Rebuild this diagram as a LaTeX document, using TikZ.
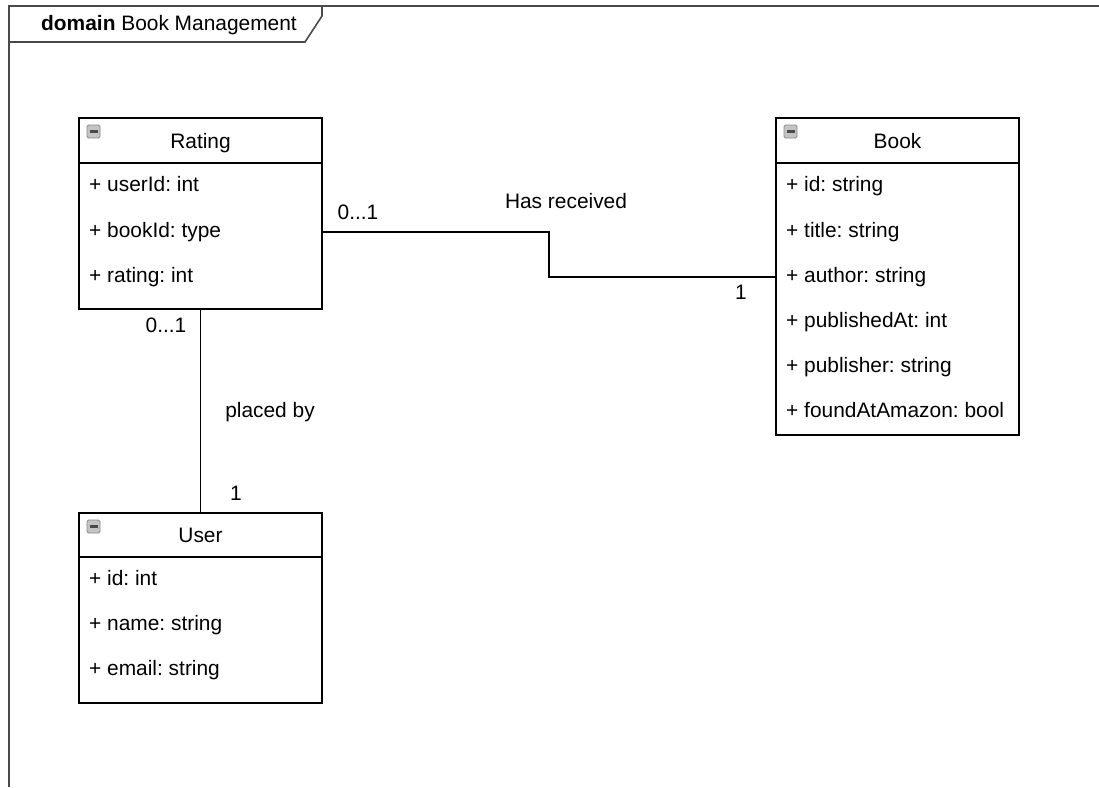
\documentclass[tikz,border=0pt]{standalone}
\usepackage{fontspec}
\setmainfont{Liberation Sans}
\usetikzlibrary{calc}
\frenchspacing

\definecolor{framegray}{HTML}{4A4A4A}
\definecolor{iconfill}{HTML}{C4C4C4}
\definecolor{iconedge}{HTML}{8A8A8A}
\definecolor{iconbar}{HTML}{4A4A4A}

\tikzset{
  uml/.style={font=\fontsize{20.9}{24}\selectfont, inner sep=0pt},
  classbox/.style={draw=black, line width=1.5pt, fill=white, outer sep=0pt,
    anchor=north west, minimum width=243pt},
  attr/.style={uml, anchor=base west},
  title/.style={uml, anchor=base},
  mult/.style={uml, anchor=base},
  assoc/.style={draw=black, line width=1.3pt},
  frameline/.style={draw=framegray, line width=2.2pt},
  tabline/.style={draw=framegray, line width=1.6pt},
}

% collapse toggle in a class header
\newcommand{\collapsemark}[1]{%
  \draw[iconedge, fill=iconfill, line width=0.9pt, rounded corners=1.5pt]
    ([shift={(8pt,-7pt)}]#1.north west) rectangle ++(13pt,-13pt);
  \draw[iconbar, line width=2.4pt]
    ([shift={(10.5pt,-13.5pt)}]#1.north west) -- ++(8pt,0);
}

\begin{document}
\begin{tikzpicture}[x=1pt, y=-1pt]
  \useasboundingbox (0,0) rectangle (1099,787);

  % package frame with its name tab
  \draw[frameline] (9,787) -- (9,6) -- (1099,6);
  \draw[tabline] (9,42) -- (305,42) -- (322,16) -- (322,6);
  \node[uml, anchor=base west] (frametitle) at (41,30)
    {\textbf{domain} Book Management};

  % class: Rating
  \node[classbox, minimum height=191pt] (rating) at (79,118) {};
  \draw[line width=1.5pt] ([yshift=-45pt]rating.north west) -- ([yshift=-45pt]rating.north east);
  \collapsemark{rating}
  \node[title] (ratingname) at (200.5,148) {Rating};
  \node[attr] (ra1) at (89,191) {+ userId: int};
  \node[attr] (ra2) at (89,237) {+ bookId: type};
  \node[attr] (ra3) at (89,282) {+ rating: int};

  % class: Book
  \node[classbox, minimum height=317pt] (book) at (776,118) {};
  \draw[line width=1.5pt] ([yshift=-45pt]book.north west) -- ([yshift=-45pt]book.north east);
  \collapsemark{book}
  \node[title] (bookname) at (897.5,148) {Book};
  \node[attr] (ba1) at (786,191) {+ id: string};
  \node[attr] (ba2) at (786,237) {+ title: string};
  \node[attr] (ba3) at (786,282) {+ author: string};
  \node[attr] (ba4) at (786,327) {+ publishedAt: int};
  \node[attr] (ba5) at (786,372) {+ publisher: string};
  \node[attr] (ba6) at (786,417) {+ foundAtAmazon: bool};

  % class: User
  \node[classbox, minimum height=190pt] (user) at (79,513) {};
  \draw[line width=1.5pt] ([yshift=-44pt]user.north west) -- ([yshift=-44pt]user.north east);
  \collapsemark{user}
  \node[title] (username) at (200.5,542) {User};
  \node[attr] (ua1) at (89,585) {+ id: int};
  \node[attr] (ua2) at (89,630) {+ name: string};
  \node[attr] (ua3) at (89,675) {+ email: string};

  % association: Rating -- Book
  \coordinate (rbend) at ([yshift=-114pt]rating.north east);
  \coordinate (bbend) at ([yshift=-159pt]book.north west);
  \draw[assoc] (rbend) -| ($(rbend)!0.5!(bbend)$) |- (bbend);
  \node[mult] (m1) at (358,219) {0...1};
  \node[mult] (lbl1) at (566,208) {Has received};
  \node[mult] (m2) at (741,299) {1};

  % association: Rating -- User
  \draw[assoc] (rating.south) -- (user.north);
  \node[mult] (m3) at (166,332) {0...1};
  \node[mult] (lbl2) at (270,417) {placed by};
  \node[mult] (m4) at (236,500) {1};
\end{tikzpicture}
\end{document}
